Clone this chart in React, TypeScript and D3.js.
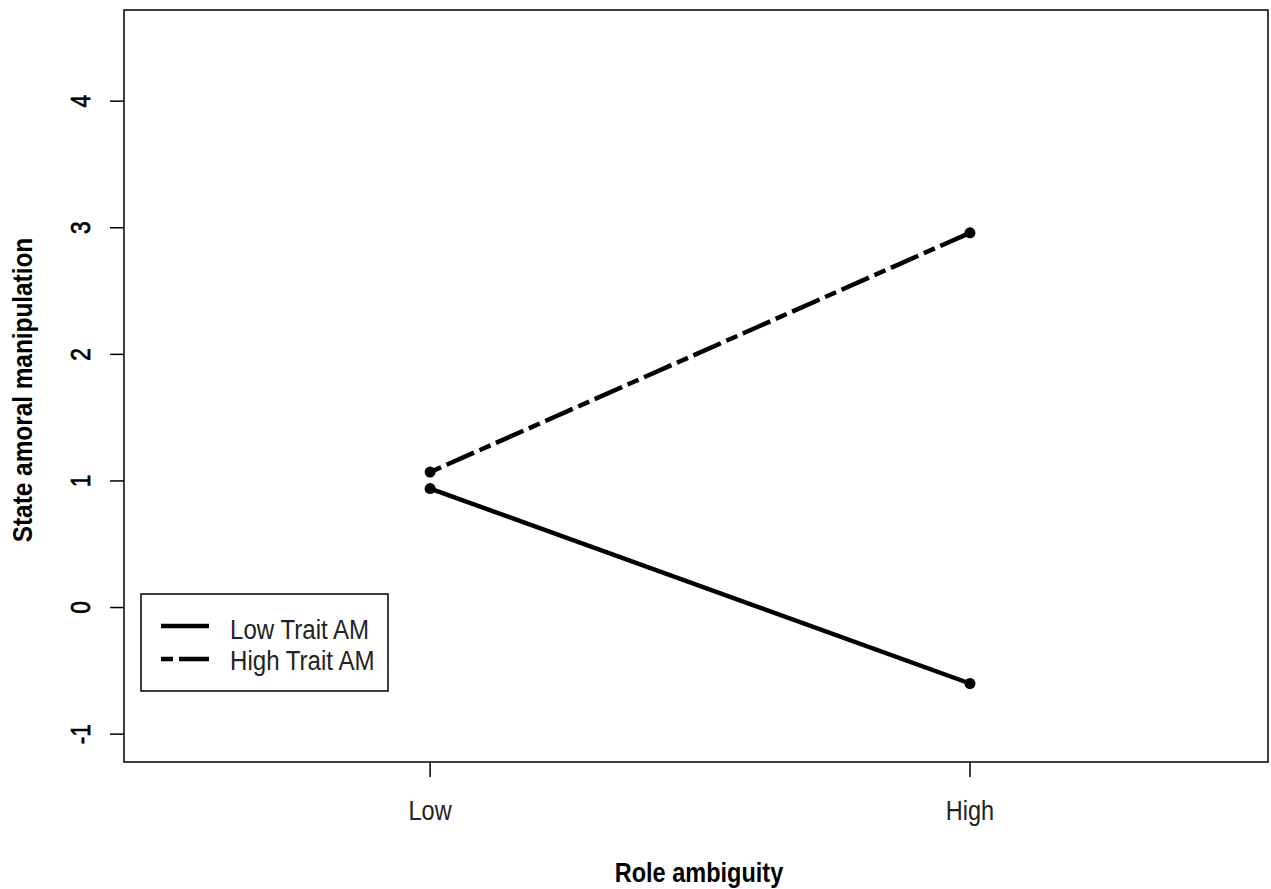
import React from 'react';
import * as d3 from 'd3';

// role ambiguity levels (x) and the two moderator lines
const levels = ['Low', 'High'];
const lowTraitAM = [0.94, -0.6];
const highTraitAM = [1.07, 2.96];
const yTicks = [-1, 0, 1, 2, 3, 4];
const seriesNames = ['Low Trait AM', 'High Trait AM'];

const W = 1271;
const H = 889;
const FONT = '"Liberation Sans", Arial, sans-serif';
const SQ = 0.84; // the source text is horizontally squeezed
const DASH = '12 6 30 6';

export default function App() {
  const left = 124, right = 1268, top = 10, bottom = 762;

  const x = d3.scaleLinear().domain([0.433, 2.552]).range([left, right]);
  const y = d3.scaleLinear().domain([-1.22, 4.72]).range([bottom, top]);

  const line = d3.line<number>()
    .x((d, i) => x(i + 1))
    .y(d => y(d));

  const series = [
    { name: seriesNames[0], values: lowTraitAM, dash: null },
    { name: seriesNames[1], values: highTraitAM, dash: DASH },
  ];

  return (
    <svg width={W} height={H} style={{ position: 'absolute', left: 0, top: 0, background: '#fff' }}
      fontFamily={FONT}>
      <rect x={0} y={0} width={W} height={H} fill="#fff" />

      {/* plot box */}
      <rect x={left} y={top} width={right - left} height={bottom - top}
        fill="none" stroke="#000" strokeWidth={1.5} />

      {/* y axis */}
      {yTicks.map(t => (
        <g key={t}>
          <line x1={left - 14} x2={left} y1={y(t)} y2={y(t)} stroke="#000" strokeWidth={1.5} />
          <text transform={`translate(90,${y(t)}) rotate(-90) scale(${SQ},1)`}
            textAnchor="middle" fontSize={27} fill="#000" stroke="#000" strokeWidth={0.7}>{t}</text>
        </g>
      ))}
      <text transform={`translate(32,${(top + bottom) / 2 + 4}) rotate(-90) scale(0.87,1)`}
        textAnchor="middle" fontSize={28} fontWeight="bold" fill="#000">State amoral manipulation</text>

      {/* x axis */}
      {levels.map((l, i) => (
        <g key={l}>
          <line x1={x(i + 1)} x2={x(i + 1)} y1={bottom} y2={bottom + 15} stroke="#000" strokeWidth={1.5} />
          <text transform={`translate(${x(i + 1)},820) scale(${SQ},1)`}
            textAnchor="middle" fontSize={28} fill="#222">{l}</text>
        </g>
      ))}
      <text transform={`translate(${(left + right) / 2 + 3},882) scale(${SQ},1)`}
        textAnchor="middle" fontSize={28} fontWeight="bold" fill="#000">Role ambiguity</text>

      {/* lines and points */}
      {series.map(s => (
        <g key={s.name}>
          <path d={line(s.values) || ''} fill="none" stroke="#000" strokeWidth={4.5}
            strokeDasharray={s.dash || undefined} />
          {s.values.map((v, i) => (
            <circle key={i} cx={x(i + 1)} cy={y(v)} r={5.5} fill="#000" />
          ))}
        </g>
      ))}

      {/* legend */}
      <rect x={141} y={594} width={247} height={97} fill="#fff" stroke="#000" strokeWidth={1.5} />
      {series.map((s, i) => (
        <g key={s.name}>
          <line x1={161} x2={209} y1={626 + i * 33} y2={626 + i * 33} stroke="#000" strokeWidth={4.5}
            strokeDasharray={s.dash || undefined} />
          <text transform={`translate(230,${639 + i * 31}) scale(0.86,1)`}
            fontSize={28} fill="#222">{s.name}</text>
        </g>
      ))}
    </svg>
  );
}
